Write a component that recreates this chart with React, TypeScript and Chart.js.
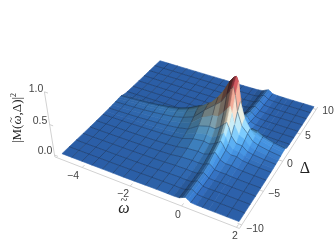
import React, { useEffect, useRef } from "react";
import { Chart, registerables } from "chart.js";
Chart.register(...registerables);

const omegaGrid = [-5,-4.5625,-4.125,-3.6875,-3.25,-2.8125,-2.375,-1.9375,-1.5,-1.0625,-0.625,-0.4,-0.1875,-0.04,0.05,0.14,0.25,0.45,0.6875,0.9,1.125,1.5625,2];
const deltaGrid = [-10,-8.75,-7.5,-6.25,-5,-3.75,-2.5,-1.9,-1.25,-0.6,0,0.6,0.95,1.25,1.6,1.9,2.5,3.75,5,6.25,7.5,8.75,10];
const heights = [
[.006,.006,.007,.007,.008,.008,.009,.011,.014,.016,.016,.014,.02,.05,.065,.048,.014,.009,.009,.008,.008,.007,.007],
[.006,.007,.007,.008,.008,.009,.011,.013,.017,.019,.02,.016,.022,.052,.068,.05,.016,.01,.01,.01,.01,.008,.007],
[.007,.007,.008,.008,.009,.011,.012,.015,.02,.023,.025,.02,.026,.056,.072,.053,.018,.012,.013,.014,.012,.009,.008],
[.007,.008,.008,.009,.011,.012,.014,.018,.024,.033,.036,.03,.034,.064,.08,.06,.024,.017,.018,.017,.014,.01,.008],
[.008,.009,.01,.011,.013,.015,.018,.023,.031,.054,.062,.056,.06,.09,.105,.08,.04,.03,.03,.021,.017,.012,.01],
[.009,.011,.012,.014,.017,.02,.025,.033,.046,.08,.093,.081,.11,.147,.171,.134,.079,.047,.05,.03,.023,.016,.012],
[.012,.014,.016,.019,.024,.029,.036,.049,.069,.127,.149,.131,.171,.213,.24,.194,.122,.073,.078,.045,.034,.023,.016],
[.014,.017,.02,.024,.03,.037,.046,.063,.089,.169,.203,.185,.236,.285,.315,.26,.169,.101,.103,.057,.043,.028,.02],
[.017,.021,.025,.03,.038,.048,.06,.083,.118,.232,.281,.271,.34,.401,.435,.366,.243,.147,.14,.075,.056,.036,.025],
[.021,.027,.032,.04,.051,.064,.081,.113,.162,.307,.401,.415,.514,.593,.635,.542,.367,.223,.185,.102,.075,.048,.032],
[.027,.034,.041,.052,.066,.084,.106,.149,.214,.383,.527,.602,.74,.842,.895,.771,.528,.322,.23,.135,.099,.063,.041],
[.032,.041,.05,.064,.082,.104,.131,.185,.266,.4,.6,.73,.9,.98,1,.93,.64,.39,.255,.167,.122,.077,.05],
[.034,.043,.053,.067,.086,.11,.138,.195,.28,.42,.5,.5,.537,.82,.9,.77,.4,.181,.2,.176,.128,.081,.053],
[.035,.045,.055,.07,.09,.115,.145,.205,.295,.34,.3,.28,.437,.665,.755,.629,.33,.146,.2,.185,.135,.085,.055],
[.019,.023,.028,.034,.043,.055,.068,.095,.135,.13,.14,.18,.3,.47,.54,.44,.22,.1,.1,.085,.065,.041,.027],
[.011,.013,.015,.018,.022,.027,.033,.045,.063,.07,.09,.13,.2,.33,.38,.31,.14,.06,.04,.041,.031,.021,.015],
[.007,.008,.009,.01,.012,.014,.016,.021,.028,.03,.04,.06,.13,.21,.25,.2,.09,.04,.025,.02,.015,.011,.009],
[.005,.006,.006,.006,.007,.007,.008,.009,.011,.008,.014,.025,.055,.1,.125,.095,.045,.02,.012,.01,.008,.007,.006],
[.005,.005,.005,.005,.005,.005,.005,.005,.005,.005,.008,.016,.035,.07,.09,.065,.028,.012,.007,.006,.005,.005,.005],
[.005,.005,.005,.005,.005,.005,.005,.005,.005,.005,.007,.01,.022,.055,.07,.05,.018,.01,.006,.005,.005,.005,.005],
[.005,.005,.005,.005,.005,.005,.005,.005,.005,.005,.006,.009,.02,.05,.065,.047,.016,.008,.006,.005,.005,.005,.005],
[.005,.005,.005,.005,.005,.005,.005,.005,.005,.005,.006,.008,.018,.048,.062,.045,.015,.008,.006,.005,.005,.005,.005],
[.005,.005,.005,.005,.005,.005,.005,.005,.005,.005,.006,.008,.018,.048,.062,.045,.015,.008,.006,.005,.005,.005,.005],
];
const omegaTicks = ["−4", "−2", "0", "2"];
const omegaTickValues = [-4, -2, 0, 2];
const deltaTicks = ["−10", "−5", "0", "5", "10"];
const deltaTickValues = [-10, -5, 0, 5, 10];
const heightTicks = ["0.0", "0.5", "1.0"];
const heightTickValues = [0, 0.5, 1];

const W = 334, H = 243;
const C = [[62,154],[239,222],[314,107],[160,61]];
const den = (C[1][0]-C[2][0])*(C[3][1]-C[2][1])-(C[3][0]-C[2][0])*(C[1][1]-C[2][1]);
const dx3 = C[0][0]-C[1][0]+C[2][0]-C[3][0], dy3 = C[0][1]-C[1][1]+C[2][1]-C[3][1];
const g = (dx3*(C[3][1]-C[2][1])-(C[3][0]-C[2][0])*dy3)/den;
const h = ((C[1][0]-C[2][0])*dy3-dx3*(C[1][1]-C[2][1]))/den;
const a = C[1][0]-C[0][0]+g*C[1][0], b = C[3][0]-C[0][0]+h*C[3][0];
const d = C[1][1]-C[0][1]+g*C[1][1], e = C[3][1]-C[0][1]+h*C[3][1];
const VP = [190, 1000], S = -0.0695;
function project(om: number, de: number, z: number) {
  const u = (om+5)/7, v = (de+10)/20;
  const w = g*u+h*v+1+z*S;
  return { x: (a*u+b*v+C[0][0]+z*S*VP[0])/w, y: (d*u+e*v+C[0][1]+z*S*VP[1])/w };
}
const stops: [number, number[]][] = [[0,[42,92,165]],[.1,[58,125,190]],[.2,[82,155,205]],[.3,[125,185,215]],[.45,[222,224,205]],[.65,[226,182,148]],[.85,[185,85,85]],[1,[150,40,60]]];
function cmap(z: number) {
  for (let i = 1; i < stops.length; i++) if (z <= stops[i][0]) {
    const t = (z-stops[i-1][0])/(stops[i][0]-stops[i-1][0]);
    return stops[i][1].map((c, k) => stops[i-1][1][k]+t*(c-stops[i-1][1][k]));
  }
  return stops[stops.length-1][1];
}
const L = (() => { const l = [.8,-.3,.6]; const n = Math.hypot(...l); return l.map(v => v/n); })();
const flatDot = L[2];
function vertexColor(i: number, j: number) {
  const i0 = Math.max(i-1,0), i1 = Math.min(i+1,omegaGrid.length-1), j0 = Math.max(j-1,0), j1 = Math.min(j+1,deltaGrid.length-1);
  const dzx = 0.35*(heights[j][i1]-heights[j][i0])/((omegaGrid[i1]-omegaGrid[i0])/7);
  const dzy = 0.35*(heights[j1][i]-heights[j0][i])/((deltaGrid[j1]-deltaGrid[j0])/20);
  const n = Math.hypot(dzx,dzy,1);
  const dot = (-dzx*L[0]-dzy*L[1]+L[2])/n;
  const f = Math.min(1.22, 0.42+0.58*Math.max(0,dot)/flatDot);
  return cmap(heights[j][i]).map(c => c*f);
}
const isMesh = (v: number, lo: number, step: number, n: number) => { const k = (v-lo)/step; return Math.abs(k-Math.round(k))<1e-6 && k>0.5 && k<n-0.5; };

function buildDatasets() {
  const out: any[] = [];
  const mesh = "rgba(10,20,40,0.5)";
  const pt = (i: number, j: number) => project(omegaGrid[i], deltaGrid[j], heights[j][i]);
  const line = (p: any[], color: string, width: number) => ({ type: "line", data: p, borderColor: color, borderWidth: width, pointRadius: 0, fill: false, tension: 0 });
  for (let j = deltaGrid.length-2; j >= 0; j--) {
    for (let i = 0; i < omegaGrid.length-1; i++) {
      const cs = [vertexColor(i,j),vertexColor(i+1,j),vertexColor(i+1,j+1),vertexColor(i,j+1)];
      const col = [0,1,2].map(k => Math.min(255,Math.round((cs[0][k]+cs[1][k]+cs[2][k]+cs[3][k])/4)));
      const c = `rgb(${col[0]},${col[1]},${col[2]})`;
      const p0 = pt(i,j), p1 = pt(i+1,j), p2 = pt(i+1,j+1), p3 = pt(i,j+1);
      out.push({ type: "line", data: [p0,p1,p2,p3,p0], fill: "shape", backgroundColor: c, borderColor: c, borderWidth: 0.6, pointRadius: 0, tension: 0 });
      if (isMesh(deltaGrid[j+1],-10,1.25,16)) out.push(line([p3,p2],mesh,0.7));
      if (isMesh(omegaGrid[i],-5,0.4375,16)) out.push(line([p0,p3],mesh,0.7));
    }
  }
  const axisC = "#d2d2d2", tickC = "#c4c4c4";
  const axes: any[] = [
    line([project(-5.2,-10.5,-0.03),project(2.1,-10.5,-0.03)],axisC,1),
    line([project(2.1,-10.5,-0.03),project(2.1,10.5,-0.03)],axisC,1),
    line([project(-5.2,-10.5,-0.03),project(-5.2,-10.5,1)],axisC,1),
  ];
  for (const v of omegaTickValues) axes.push(line([project(v,-10.5,-0.03),project(v,-10.1,-0.03)],tickC,0.8));
  for (const v of deltaTickValues) axes.push(line([project(2.1,v,-0.03),project(1.95,v,-0.03)],tickC,0.8));
  for (const v of heightTickValues) axes.push(line([project(-5.2,-10.5,v),project(-5.05,-10.5,v)],tickC,0.8));
  return [...axes, ...out].reverse();
}

const labels: [string, number, number][] = [
  [omegaTicks[0],73,176],[omegaTicks[1],123,194],[omegaTicks[2],178,215],[omegaTicks[3],235,236],
  [deltaTicks[0],255,229],[deltaTicks[1],274,194],[deltaTicks[2],290,164],[deltaTicks[3],308,136],[deltaTicks[4],328,111],
  [heightTicks[0],45,151],[heightTicks[1],40,121],[heightTicks[2],36,89],
];

function drawPieces(ctx: any, pieces: [string, string, boolean?][], cx: number, cy: number) {
  let total = 0;
  for (const [t, f] of pieces) { ctx.font = f; total += ctx.measureText(t).width; }
  let x = cx-total/2;
  ctx.textAlign = "left";
  for (const [t, f, tilde] of pieces) {
    ctx.font = f;
    const w = ctx.measureText(t).width;
    const sup = t === "2";
    ctx.fillText(t, x, sup ? cy-4 : cy);
    if (tilde) {
      const size = parseFloat(f.replace(/[^0-9.]/g, ""));
      ctx.textAlign = "center";
      ctx.font = `${size*0.8}px "Liberation Serif"`;
      ctx.fillText("~", x+w/2, cy-size*0.55);
      ctx.textAlign = "left";
    }
    x += w;
  }
  ctx.textAlign = "center";
}

const textPlugin = {
  id: "text3d",
  afterDraw(chart: any) {
    const ctx = chart.ctx, sx = chart.scales.x, sy = chart.scales.y;
    ctx.save();
    ctx.textAlign = "center"; ctx.textBaseline = "middle";
    ctx.fillStyle = "#444";
    ctx.font = '10.5px "Liberation Sans"';
    for (const [t,x,y] of labels) ctx.fillText(t, sx.getPixelForValue(x), sy.getPixelForValue(y));
    ctx.fillStyle = "#222";
    drawPieces(ctx, [["ω",'italic 16px "Liberation Serif"',true]], sx.getPixelForValue(124), sy.getPixelForValue(209));
    ctx.font = '16px "Liberation Serif"';
    ctx.fillText("Δ", sx.getPixelForValue(305), sy.getPixelForValue(169));
    ctx.translate(sx.getPixelForValue(18), sy.getPixelForValue(118));
    ctx.rotate(-Math.PI/2);
    const f = '13px "Liberation Serif"';
    drawPieces(ctx, [["|M(",f],["ω",'italic 13px "Liberation Serif"',true],[",Δ)|",f],["2",'8px "Liberation Serif"']], 0, 0);
    ctx.restore();
  },
};

export default function App() {
  const ref = useRef<HTMLCanvasElement>(null);
  useEffect(() => {
    const chart = new Chart(ref.current!, {
      type: "line",
      data: { datasets: buildDatasets() },
      options: {
        animation: false, responsive: false, events: [],
        layout: { padding: 0 },
        plugins: { legend: { display: false }, tooltip: { enabled: false } },
        scales: {
          x: { type: "linear", min: 0, max: W, display: false },
          y: { type: "linear", min: 0, max: H, reverse: true, display: false },
        },
      },
      plugins: [textPlugin],
    } as any);
    return () => chart.destroy();
  }, []);
  return (
    <div style={{ position: "fixed", left: 0, top: 0, width: W, height: H, background: "#fff" }}>
      <canvas ref={ref} width={W} height={H} style={{ display: "block" }} />
    </div>
  );
}
